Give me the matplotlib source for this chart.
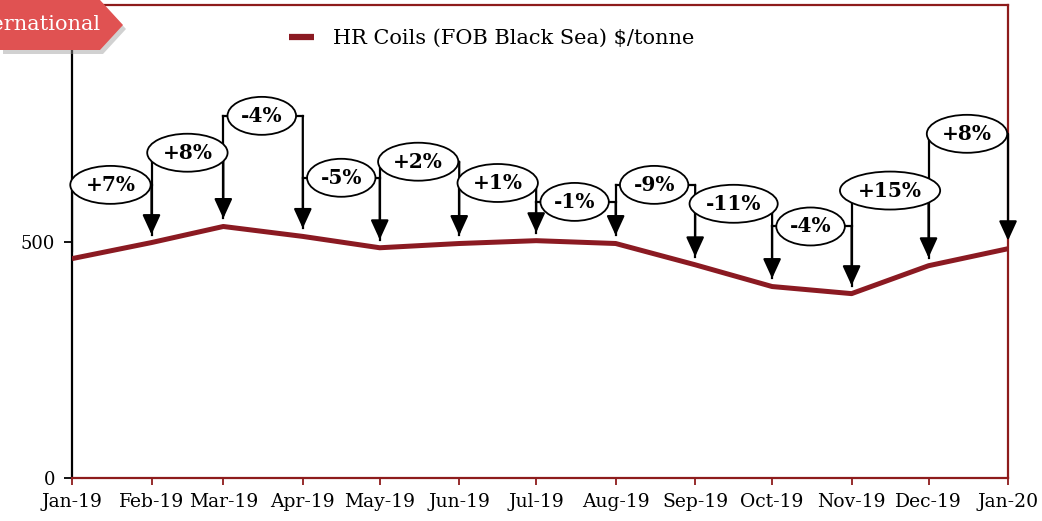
import datetime as dt
import matplotlib
matplotlib.use("Agg")
import matplotlib.pyplot as plt
from matplotlib.patches import Polygon

plt.rcParams['font.family'] = ['DejaVu Serif']

# monthly values
months = ["Jan-19", "Feb-19", "Mar-19", "Apr-19", "May-19", "Jun-19", "Jul-19",
          "Aug-19", "Sep-19", "Oct-19", "Nov-19", "Dec-19", "Jan-20"]
prices = [464, 498, 532, 511, 487, 496, 502, 496, 451, 405, 390, 449, 485]
# month-on-month change labels and the height of each bracket
changes = ["+7%", "+8%", "-4%", "-5%", "+2%", "+1%", "-1%", "-9%", "-11%", "-4%", "+15%", "+8%"]
levels = [620, 688, 766, 635, 669, 624, 584, 620, 580, 532, 608, 728]

dates = [dt.date(2019 + (i // 12), i % 12 + 1, 1) for i in range(len(months))]
red = "#8b1a22"
dark = "#8e1c1c"

fig = plt.figure(figsize=(10.42, 5.21), dpi=100)
ax = fig.add_axes([0.0691, 0.0825, 0.8983, 0.9075])

ax.plot(dates, prices, color=red, lw=3.6, solid_capstyle='butt', zorder=3,
        label="HR Coils (FOB Black Sea) $/tonne")

gap = 17
for i, txt in enumerate(changes):
    x0, x1 = dates[i], dates[i + 1]
    lv = levels[i]
    ax.plot([x0, x1], [lv, lv], color='black', lw=1.6, zorder=4)
    ax.plot([x0, x0], [lv, prices[i] + gap], color='black', lw=1.6, zorder=4)
    ax.annotate('', xy=(x1, prices[i + 1] + gap), xytext=(x1, lv),
                arrowprops=dict(arrowstyle='-|>,head_length=1.2,head_width=0.55',
                                color='black', lw=1.6, shrinkA=0, shrinkB=0,
                                mutation_scale=10), zorder=4)
    mid = x0 + (x1 - x0) / 2
    ax.text(mid, lv, txt, ha='center', va='center', fontsize=14.5, fontweight='bold',
            zorder=5,
            bbox=dict(boxstyle='ellipse,pad=0.17', fc='white', ec='black', lw=1.3))

ax.set_ylim(0, 1000)
ax.set_xlim(dates[0], dates[-1])
ax.set_yticks([0, 500])
ax.set_yticklabels(["0", "500"])
ax.set_xticks(dates)
ax.set_xticklabels(months)
ax.tick_params(axis='y', length=6, width=1.3, color='black', labelsize=13, pad=6)
ax.tick_params(axis='x', length=5, width=1.3, color=dark, labelsize=13.5, pad=6)

ax.spines['left'].set_color('black')
for s in ['bottom', 'top', 'right']:
    ax.spines[s].set_color(dark)
for s in ax.spines.values():
    s.set_linewidth(1.6)

leg = ax.legend(loc='center', bbox_to_anchor=(0.448, 0.93), frameon=False, fontsize=15,
                handlelength=1.2, handletextpad=0.9)
for h in leg.get_lines():
    h.set_linewidth(4.5)

# banner in the top-left corner (title runs off the left edge, as in the source)
W, H = 1042.0, 521.0
def fpt(x, y):
    return (x / W, 1 - y / H)
shape = [(0, 0), (100, 0), (123, 25), (100, 50), (0, 50)]
fig.patches.append(Polygon([fpt(x + 3, y + 4) for x, y in shape], closed=True,
                           transform=fig.transFigure, fc='#999999', alpha=0.45, ec='none'))
fig.patches.append(Polygon([fpt(x, y) for x, y in shape], closed=True,
                           transform=fig.transFigure, fc='#e05252', ec='none'))
fig.text(101 / W, 1 - 25 / H, "International", color='white', fontsize=15,
         ha='right', va='center')

fig.savefig("out.png", dpi=100)
